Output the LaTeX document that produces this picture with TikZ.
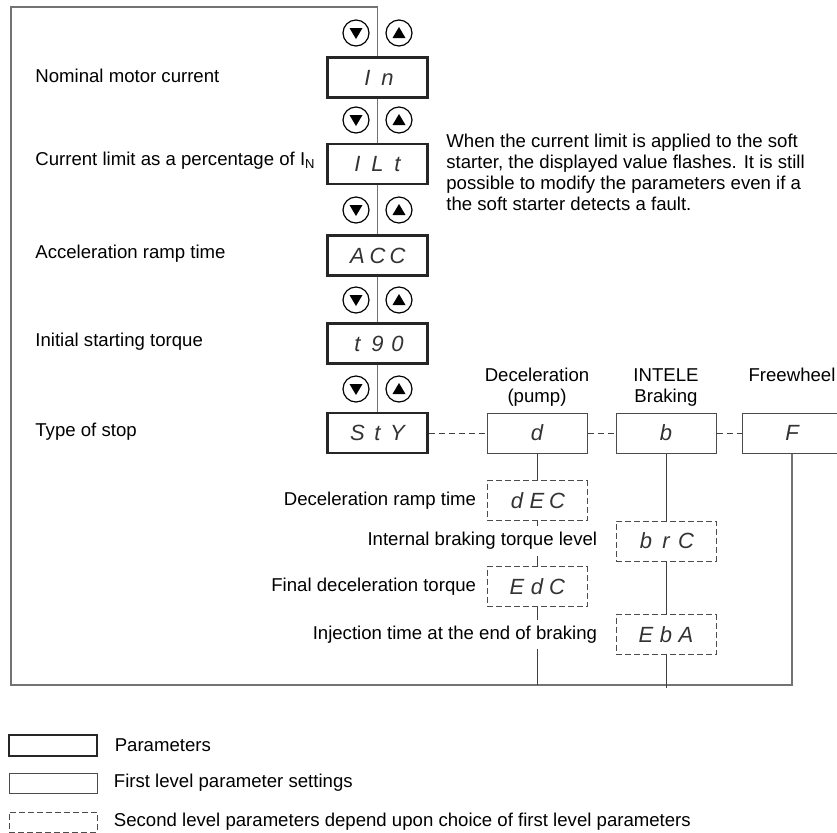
\documentclass[tikz,border=0pt]{standalone}
\usepackage{fontspec}
\setmainfont{Liberation Sans}
\usetikzlibrary{positioning}

\newcommand{\lblfont}{\fontsize{9.3}{10.5}\selectfont}
\newcommand{\segfont}{\fontsize{11}{12}\selectfont\itshape\color{black!80}}
\newcommand{\sg}[1]{\makebox[10pt]{#1}}

\tikzset{
  frame/.style={draw=black!55, line width=0.7pt},
  link/.style={draw=black!75, line width=0.5pt},
  dashlink/.style={link, dash pattern=on 3pt off 2pt},
  parbox/.style={draw=black!85, line width=1.4pt, minimum width=50pt, minimum height=20pt, font=\segfont},
  setbox/.style={draw=black!70, line width=0.5pt, minimum width=50pt, minimum height=20pt, font=\segfont},
  subbox/.style={setbox, dash pattern=on 3pt off 1.5pt},
  lbl/.style={font=\lblfont, inner sep=3pt},
  btn/.style={circle, draw=black, line width=0.6pt, minimum size=13pt, inner sep=0pt},
}

\begin{document}
\begin{tikzpicture}[x=0.5pt, y=-0.5pt]
    \useasboundingbox (0,0) rectangle (837,832);
    % Parameter column.
        \node[parbox] (In) at (377.5,77.5) {\sg I\sg n};
        \node[parbox] (ILt) at (377.5,164) {\sg I\sg L\sg t};
        \node[parbox] (ACC) at (377.5,255.5) {\sg A\sg C\sg C};
        \node[parbox] (tq0) at (377.5,343.5) {\sg t\sg 9\sg 0};
        \node[parbox] (StY) at (377.5,433) {\sg S\sg t\sg Y};
    % First and second level settings.
        \node[setbox] (d) at (537,433) {\sg d};
        \node[setbox] (b) at (666,433) {\sg b};
        \node[setbox] (F) at (792,433) {\sg F};
        \node[subbox] (dEC) at (537,500.5) {\sg d\sg E\sg C};
        \node[subbox] (EdC) at (537,586.5) {\sg E\sg d\sg C};
        \node[subbox] (brC) at (666,541) {\sg b\sg r\sg C};
        \node[subbox] (EbA) at (666,634.5) {\sg E\sg b\sg A};
    % This draws the outer frame.
        \coordinate (tl) at (11,7);
        \coordinate (bl) at (11,685);
        \draw[frame] (In.north) |- (tl) -- (bl) -- (bl -| F.south) -- (F.south);
        \draw[frame] (In.south) -- (ILt.north) (ILt.south) -- (ACC.north)
            (ACC.south) -- (tq0.north) (tq0.south) -- (StY.north);
    % Up and down buttons.
    \foreach \y/\n in {33/1,120/2,210/3,300/4,389/5} {
        \node[btn] (dn\n) at (356,\y) {};
        \node[btn] (up\n) at (399,\y) {};
        \fill ([shift={(-6.5,-5)}]dn\n.center) -- ([shift={(6.5,-5)}]dn\n.center)
            -- ([shift={(0,6)}]dn\n.center) -- cycle;
        \fill ([shift={(-6.5,5)}]up\n.center) -- ([shift={(6.5,5)}]up\n.center)
            -- ([shift={(0,-6)}]up\n.center) -- cycle;
    }
    % Connectors.
        \draw[dashlink] (StY.east) -- (d.west) (d.east) -- (b.west) (b.east) -- (F.west);
        \draw[link] (d) -- (dEC) (dEC) -- (EdC) (EdC.south) -- (EdC.south |- bl);
        \draw[link] (b) -- (brC) (brC) -- (EbA);
        \draw[link] (EbA.south) -- ([yshift=-1.5pt]EbA.south |- bl);
    % Below nodes are the labels.
        \node[lbl, anchor=west] (lIn) at (29,76) {Nominal motor current};
        \node[lbl, anchor=west] (lILt) at (29,161) {Current limit as a percentage of I\textsubscript{N}};
        \node[lbl, anchor=west] (lACC) at (29,254) {Acceleration ramp time};
        \node[lbl, anchor=west] (ltq0) at (29,342) {Initial starting torque};
        \node[lbl, anchor=west] (lStY) at (29,432) {Type of stop};
        \node[lbl, anchor=north west, align=left] (note) at (440,128)
            {When the current limit is applied to the soft\\starter, the displayed value flashes. It is still\\possible to modify the parameters even if a\\the soft starter detects a fault.};
        \node[lbl, align=center, above=0pt of d] (ld) {Deceleration\\(pump)};
        \node[lbl, align=center, above=0pt of b] (lb) {INTELE\\Braking};
        \node[lbl, anchor=north] (lF) at (ld.north -| F.north) {Freewheel};
        \node[lbl, left=2pt of dEC] (ldEC) {Deceleration ramp time};
        \node[lbl, fill=white, left=6pt of brC] (lbrC) {Internal braking torque level};
        \node[lbl, left=2pt of EdC] (lEdC) {Final deceleration torque};
        \node[lbl, fill=white, left=6pt of EbA] (lEbA) {Injection time at the end of braking};
    % Legend.
        \node[parbox, minimum width=44pt, minimum height=10.5pt] (key1) at (53,745.5) {};
        \node[setbox, minimum width=44pt, minimum height=10pt] (key2) at (53,783) {};
        \node[subbox, minimum width=44pt, minimum height=10pt] (key3) at (53,822) {};
        \node[lbl, right=5pt of key1] (tkey1) {Parameters};
        \node[lbl, right=5pt of key2] (tkey2) {First level parameter settings};
        \node[lbl, right=5pt of key3] (tkey3) {Second level parameters depend upon choice of first level parameters};
\end{tikzpicture}
\end{document}
